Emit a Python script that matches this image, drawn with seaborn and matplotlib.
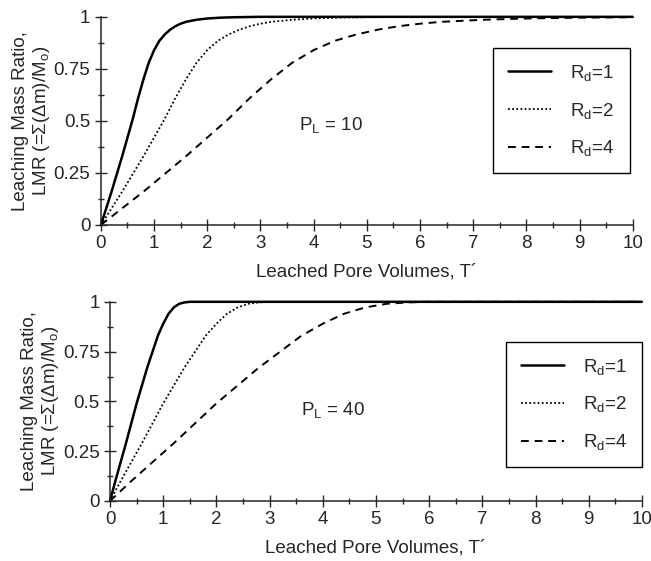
import matplotlib
matplotlib.use("Agg")
import matplotlib.pyplot as plt
import seaborn as sns
import pandas as pd
from matplotlib.ticker import MultipleLocator

# ---- data ----
# P_L = 10
top_t_rd1 = [0, 0.05, 0.1, 0.2, 0.3, 0.4, 0.5, 0.6, 0.7, 0.8, 0.9, 1.0, 1.1, 1.2, 1.3, 1.4, 1.5, 1.6, 1.8, 2.0, 2.25, 2.5, 3.0, 10]
top_v_rd1 = [0, 0.04, 0.08, 0.16, 0.245, 0.33, 0.42, 0.51, 0.61, 0.70, 0.78, 0.84, 0.885, 0.915, 0.938, 0.955, 0.967, 0.976, 0.986, 0.992, 0.996, 0.998, 1.0, 1.0]
top_t_rd2 = [0, 0.1, 0.2, 0.4, 0.6, 0.8, 1.0, 1.2, 1.4, 1.6, 1.8, 2.0, 2.2, 2.4, 2.6, 2.8, 3.0, 3.2, 3.6, 4.0, 4.5, 5.0, 6.0, 10]
top_v_rd2 = [0, 0.04, 0.08, 0.16, 0.245, 0.33, 0.42, 0.51, 0.61, 0.70, 0.78, 0.84, 0.885, 0.915, 0.938, 0.955, 0.967, 0.976, 0.986, 0.992, 0.996, 0.998, 1.0, 1.0]
top_t_rd4 = [0, 0.2, 0.4, 0.8, 1.2, 1.6, 2.0, 2.4, 2.8, 3.2, 3.6, 4.0, 4.4, 4.8, 5.2, 5.6, 6.0, 6.4, 7.2, 8.0, 9.0, 10.0]
top_v_rd4 = [0, 0.04, 0.08, 0.16, 0.245, 0.33, 0.42, 0.51, 0.61, 0.70, 0.78, 0.84, 0.885, 0.915, 0.938, 0.955, 0.967, 0.976, 0.986, 0.992, 0.996, 0.998]

# P_L = 40
bot_t_rd1 = [0, 0.05, 0.1, 0.2, 0.3, 0.4, 0.5, 0.6, 0.7, 0.8, 0.9, 1.0, 1.1, 1.2, 1.3, 1.4, 1.5, 1.7, 10]
bot_v_rd1 = [0, 0.05, 0.10, 0.195, 0.29, 0.39, 0.49, 0.58, 0.67, 0.75, 0.83, 0.89, 0.94, 0.972, 0.99, 0.997, 1.0, 1.0, 1.0]
bot_t_rd2 = [0, 0.1, 0.2, 0.4, 0.6, 0.8, 1.0, 1.2, 1.4, 1.6, 1.8, 2.0, 2.2, 2.4, 2.6, 2.8, 3.0, 3.4, 10]
bot_v_rd2 = [0, 0.05, 0.10, 0.195, 0.29, 0.39, 0.49, 0.58, 0.67, 0.75, 0.83, 0.89, 0.94, 0.972, 0.99, 0.997, 1.0, 1.0, 1.0]
bot_t_rd4 = [0, 0.2, 0.4, 0.8, 1.2, 1.6, 2.0, 2.4, 2.8, 3.2, 3.6, 4.0, 4.4, 4.8, 5.2, 5.6, 6.0, 6.8, 10]
bot_v_rd4 = [0, 0.05, 0.10, 0.195, 0.29, 0.39, 0.49, 0.58, 0.67, 0.75, 0.83, 0.89, 0.94, 0.972, 0.99, 0.997, 1.0, 1.0, 1.0]

series_labels = ["R$_\\mathregular{d}$=1", "R$_\\mathregular{d}$=2", "R$_\\mathregular{d}$=4"]
panel_labels = ["P$_\\mathregular{L}$ = 10", "P$_\\mathregular{L}$ = 40"]
x_ticks = [0, 1, 2, 3, 4, 5, 6, 7, 8, 9, 10]
y_ticks = [0, 0.25, 0.5, 0.75, 1]
y_tick_labels = ["0", "0.25", "0.5", "0.75", "1"]
x_label = "Leached Pore Volumes, T\u00b4"
y_label = "Leaching Mass Ratio,\nLMR (=\u03a3(\u0394m)/M$_\\mathregular{o}$)"

sns.set_style("ticks")
plt.rcParams['font.family'] = ['Liberation Sans', 'DejaVu Sans']
plt.rcParams['mathtext.fontset'] = 'custom'
plt.rcParams['mathtext.rm'] = 'Liberation Sans'
plt.rcParams['mathtext.it'] = 'Liberation Sans'

fig = plt.figure(figsize=(6.51, 5.61), dpi=100)
ax_top = fig.add_axes([0.155, 0.599, 0.817, 0.371])
ax_bot = fig.add_axes([0.169, 0.107, 0.817, 0.355])

styles = [dict(linestyle='-', linewidth=1.8),
          dict(linestyle=(0, (1, 1.3)), linewidth=1.3),
          dict(linestyle=(0, (4, 3)), linewidth=1.4)]

panels = [
    (ax_top, [(top_t_rd1, top_v_rd1), (top_t_rd2, top_v_rd2), (top_t_rd4, top_v_rd4)],
     panel_labels[0], (3.72, 0.48), (0.994, 0.851)),
    (ax_bot, [(bot_t_rd1, bot_v_rd1), (bot_t_rd2, bot_v_rd2), (bot_t_rd4, bot_v_rd4)],
     panel_labels[1], (3.6, 0.457), (1.0, 0.80)),
]

for ax, series, plabel, ppos, lpos in panels:
    for (t, v), lab, st in zip(series, series_labels, styles):
        df = pd.DataFrame({"T": t, "LMR": v})
        sns.lineplot(data=df, x="T", y="LMR", ax=ax, color="black", label=lab,
                     clip_on=False, **st)
    ax.set_xlim(0, 10)
    ax.set_ylim(0, 1)
    ax.set_xticks(x_ticks)
    ax.set_xticklabels([str(i) for i in x_ticks], fontsize=13.5)
    ax.set_yticks(y_ticks)
    ax.set_yticklabels(y_tick_labels, fontsize=13.5)
    ax.xaxis.set_minor_locator(MultipleLocator(0.5))
    ax.yaxis.set_minor_locator(MultipleLocator(0.125))
    ax.tick_params(which='major', direction='inout', length=9, width=1, pad=3)
    ax.tick_params(which='minor', direction='inout', length=4, width=1)
    for s in ['top', 'right']:
        ax.spines[s].set_visible(False)
    for s in ['left', 'bottom']:
        ax.spines[s].set_linewidth(1.1)
    ax.set_xlabel(x_label, fontsize=13.5, labelpad=8)
    ax.set_ylabel(y_label, fontsize=13.5, labelpad=1, linespacing=1.15)
    ax.text(ppos[0], ppos[1], plabel, fontsize=13.5, va='center', ha='left')
    leg = ax.legend(loc='upper right', bbox_to_anchor=lpos, fontsize=13.5,
                    frameon=True, fancybox=False, edgecolor='black', framealpha=1,
                    handlelength=2.3, handletextpad=1.0, labelspacing=0.95,
                    borderpad=0.8, borderaxespad=0)
    leg.get_frame().set_linewidth(1.0)

fig.savefig("out.png", dpi=100)
